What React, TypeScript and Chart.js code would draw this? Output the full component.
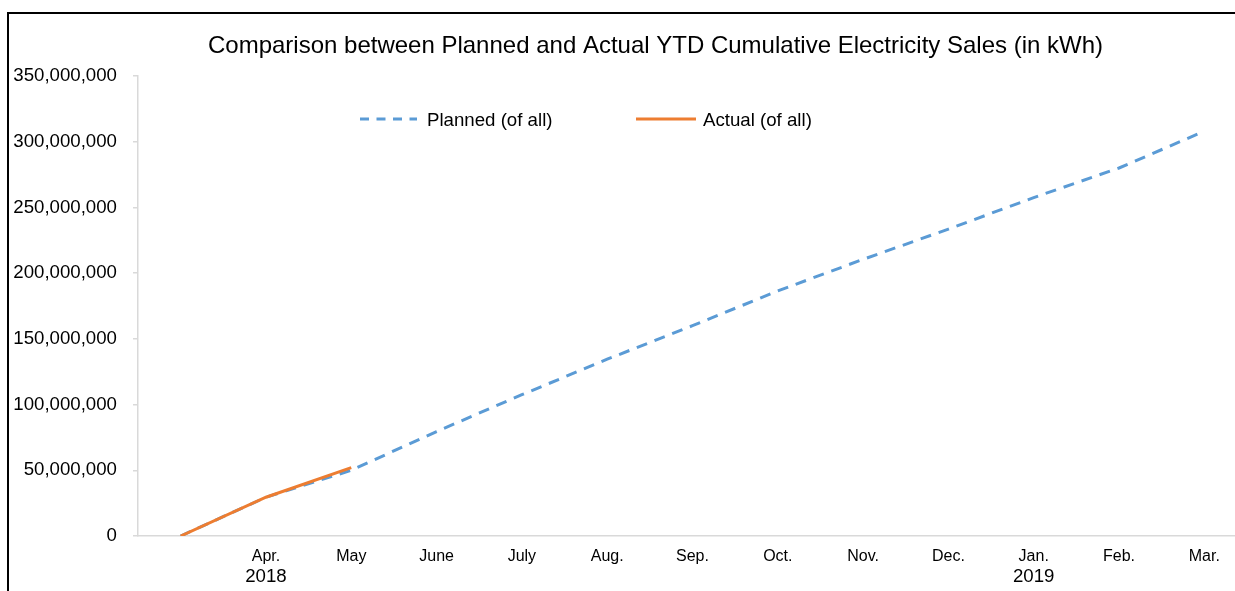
import React, { useEffect, useRef } from "react";
import { Chart, registerables } from "chart.js";

Chart.register(...registerables);

const monthLabels = ["", "Apr.", "May", "June", "July", "Aug.", "Sep.", "Oct.", "Nov.", "Dec.", "Jan.", "Feb.", "Mar."];
const yearLabels = ["", "2018", "", "", "", "", "", "", "", "", "2019", "", ""];
const plannedValues = [0, 29500000, 50000000, 79500000, 107500000, 134500000, 160000000, 186500000, 210500000, 233500000, 257500000, 280000000, 308000000];
const actualValues = [0, 29500000, 52000000];
const yTicks = [0, 50000000, 100000000, 150000000, 200000000, 250000000, 300000000, 350000000];

const TITLE = "Comparison between Planned and Actual YTD Cumulative Electricity Sales (in kWh)";
const PLANNED_NAME = "Planned (of all)";
const ACTUAL_NAME = "Actual (of all)";

const BLUE = "#5B9BD5";
const ORANGE = "#ED7D31";
const AXIS = "#D9D9D9";
const FONT = "'Liberation Sans', Arial, sans-serif";

const overlayPlugin = {
  id: "overlayText",
  afterDraw(chart: any) {
    const { ctx, chartArea } = chart;
    const L = chartArea.left;
    const T = chartArea.top;
    ctx.save();
    // title
    ctx.fillStyle = "#000";
    ctx.font = `24px ${FONT}`;
    ctx.textAlign = "center";
    ctx.textBaseline = "alphabetic";
    ctx.fillText(TITLE, L + 517.5, T - 23);
    // legend
    ctx.font = `18.67px ${FONT}`;
    ctx.textAlign = "left";
    ctx.lineWidth = 3;
    ctx.strokeStyle = BLUE;
    ctx.setLineDash([9, 7.5]);
    ctx.beginPath();
    ctx.moveTo(L + 222, T + 43);
    ctx.lineTo(L + 279, T + 43);
    ctx.stroke();
    ctx.setLineDash([]);
    ctx.strokeStyle = ORANGE;
    ctx.beginPath();
    ctx.moveTo(L + 498, T + 43);
    ctx.lineTo(L + 558, T + 43);
    ctx.stroke();
    ctx.fillText(PLANNED_NAME, L + 289, T + 50);
    ctx.fillText(ACTUAL_NAME, L + 565, T + 50);
    ctx.restore();
  },
};

export default function App() {
  const ref = useRef<HTMLCanvasElement | null>(null);

  useEffect(() => {
    if (!ref.current) return;
    const chart = new Chart(ref.current, {
      type: "line",
      data: {
        labels: monthLabels,
        datasets: [
          {
            label: PLANNED_NAME,
            data: plannedValues,
            borderColor: BLUE,
            backgroundColor: BLUE,
            borderWidth: 3,
            borderDash: [11, 8],
            pointRadius: 0,
            tension: 0,
            order: 2,
          },
          {
            label: ACTUAL_NAME,
            data: actualValues,
            borderColor: ORANGE,
            backgroundColor: ORANGE,
            borderWidth: 3,
            pointRadius: 0,
            tension: 0,
            order: 1,
          },
        ],
      },
      options: {
        responsive: false,
        animation: false,
        layout: { padding: { top: 62, left: 0, right: 0, bottom: 0 } },
        plugins: {
          legend: { display: false },
          title: { display: false },
          tooltip: { enabled: false },
        },
        scales: {
          x: {
            type: "category",
            position: "bottom",
            offset: true,
            weight: 0,
            grid: { display: false, drawTicks: false },
            border: { display: true, color: AXIS, width: 1.5 },
            ticks: {
              color: "#000",
              font: { family: FONT, size: 16 },
              padding: 11,
              maxRotation: 0,
              autoSkip: false,
            },
            afterFit: (s: any) => {
              s.height = 29;
            },
          },
          x2: {
            type: "category",
            position: "bottom",
            labels: yearLabels,
            offset: true,
            weight: 1,
            grid: { display: false, drawTicks: false },
            border: { display: false },
            ticks: {
              color: "#000",
              font: { family: FONT, size: 18.67 },
              padding: 1,
              maxRotation: 0,
              autoSkip: false,
            },
            afterFit: (s: any) => {
              s.height = 26;
            },
          },
          y: {
            type: "linear",
            min: 0,
            max: 350000000,
            grid: {
              display: true,
              drawOnChartArea: false,
              drawTicks: true,
              tickLength: 5,
              color: AXIS,
              lineWidth: 1.5,
            },
            border: { display: true, color: AXIS, width: 1.5 },
            afterBuildTicks: (s: any) => {
              s.ticks = yTicks.map((v) => ({ value: v }));
            },
            ticks: {
              color: "#000",
              font: { family: FONT, size: 18.67 },
              padding: 16,
              callback: (v: any) => Number(v).toLocaleString("en-US"),
            },
            afterFit: (s: any) => {
              s.width = 129;
            },
          },
        },
      },
      plugins: [overlayPlugin],
    });
    return () => chart.destroy();
  }, []);

  return (
    <div
      style={{
        position: "fixed",
        left: 0,
        top: 0,
        width: 1235,
        height: 591,
        overflow: "hidden",
        background: "#fff",
      }}
    >
      <div
        style={{
          position: "absolute",
          left: 7,
          top: 12,
          width: 1400,
          height: 700,
          borderLeft: "2px solid #000",
          borderTop: "2px solid #000",
        }}
      >
        <canvas
          ref={ref}
          width={1238}
          height={577}
          style={{ position: "absolute", left: 0, top: 0, width: 1238, height: 577 }}
        />
      </div>
    </div>
  );
}
